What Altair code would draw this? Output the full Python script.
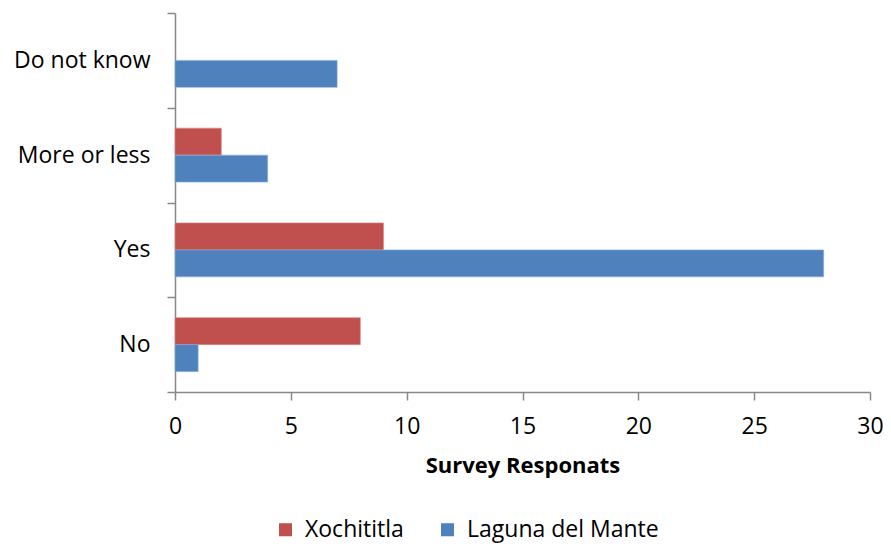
import altair as alt
import pandas as pd

categories = ["Do not know", "More or less", "Yes", "No"]
series = ["Xochititla", "Laguna del Mante"]
xochititla = [0, 2, 9, 8]
laguna = [7, 4, 28, 1]
colors = ["#C0504D", "#4F81BD"]

rows = []
for c, a, b in zip(categories, xochititla, laguna):
    rows.append({"cat": c, "series": series[0], "value": a})
    rows.append({"cat": c, "series": series[1], "value": b})
df = pd.DataFrame(rows)

FONT = "Open Sans"
H = 379
W = 695

bars = alt.Chart(df).mark_bar(strokeWidth=0.6).encode(
    y=alt.Y("cat:N", sort=categories, title=None,
            scale=alt.Scale(paddingInner=0, paddingOuter=0),
            axis=alt.Axis(tickBand="extent", labelFontSize=23, labelFont=FONT,
                          labelColor="black", labelPadding=17, tickSize=8,
                          domainColor="#888888", tickColor="#888888",
                          domainWidth=1.5, tickWidth=1.5)),
    yOffset=alt.YOffset("series:N", sort=series,
                        scale=alt.Scale(paddingInner=0, paddingOuter=0.755)),
    x=alt.X("value:Q", title="Survey Responats",
            scale=alt.Scale(domain=[0, 30]),
            axis=alt.Axis(values=[0, 5, 10, 15, 20, 25, 30], grid=False,
                          labelFlush=False,
                          labelFontSize=23, labelFont=FONT, labelColor="black",
                          labelPadding=15, tickSize=8, titleFontSize=22,
                          titleFont=FONT, titleFontWeight="bold",
                          titlePadding=17, titleColor="black",
                          domainColor="#888888", tickColor="#888888",
                          domainWidth=1.5, tickWidth=1.5)),
    color=alt.Color("series:N", sort=series,
                    scale=alt.Scale(domain=series, range=colors),
                    legend=alt.Legend(title=None, orient="none", direction="horizontal",
                                      legendX=99, legendY=505, padding=0,
                                      symbolType="square", symbolSize=170,
                                      symbolStrokeWidth=0, labelLimit=400,
                                      labelFontSize=23, labelFont=FONT,
                                      labelColor="black", columnPadding=32,
                                      labelOffset=8)),
    stroke=alt.Stroke("series:N", sort=series,
                      scale=alt.Scale(domain=series, range=["#D98A88", "#8FAFD9"]),
                      legend=None),
    strokeOpacity=alt.condition("datum.value > 0", alt.value(1), alt.value(0)),
)

chart = bars.properties(
    width=W, height=H,
    padding={"left": 167, "top": 5, "right": 13, "bottom": 152},
    autosize=alt.AutoSizeParams(type="none"),
).configure(background="white").configure_view(stroke=None)

chart.save("out.html", embed_options={"renderer": "svg", "actions": False})
